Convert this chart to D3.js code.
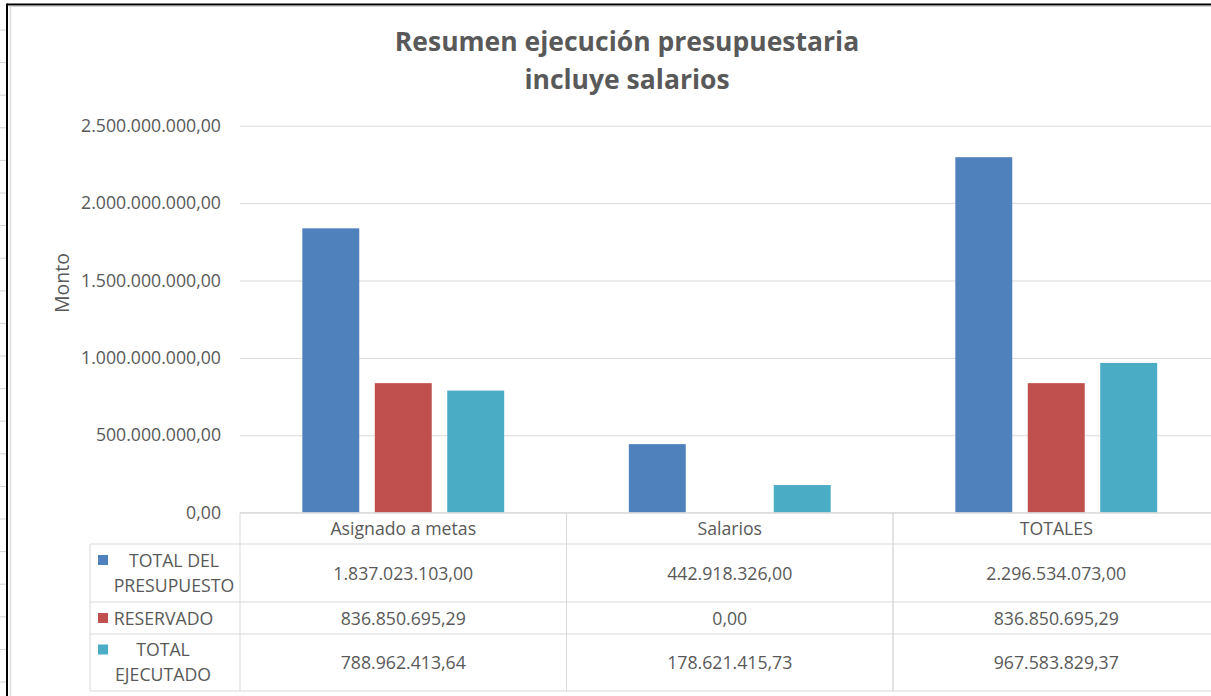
<!DOCTYPE html>
<html>
<head>
<meta charset="utf-8">
<script src="https://cdn.jsdelivr.net/npm/d3@7"></script>
<style>
  html, body { margin: 0; padding: 0; background: #fff; overflow: hidden; }
  svg { display: block; }
  text { font-family: "Open Sans", "Noto Sans", sans-serif; fill: #595959; }
</style>
</head>
<body>
<svg id="chart" width="1211" height="696"></svg>
<script>
// ---- data ----
const categories = ["Asignado a metas", "Salarios", "TOTALES"];
const seriesNames = ["TOTAL DEL PRESUPUESTO", "RESERVADO", "TOTAL EJECUTADO"];
const seriesLabelLines = [["TOTAL DEL", "PRESUPUESTO"], ["RESERVADO"], ["TOTAL", "EJECUTADO"]];
const totalPresupuesto = [1837023103.00, 442918326.00, 2296534073.00];
const reservado = [836850695.29, 0.00, 836850695.29];
const totalEjecutado = [788962413.64, 178621415.73, 967583829.37];
const yTicks = [0, 500000000, 1000000000, 1500000000, 2000000000, 2500000000];
const seriesColors = ["#4F81BD", "#C0504D", "#4BACC6"];
const titleLines = ["Resumen ejecución presupuestaria", "incluye salarios"];
const yAxisTitle = "Monto";

const seriesValues = [totalPresupuesto, reservado, totalEjecutado];

// ---- layout ----
const svg = d3.select("#chart");
const W = 1211, H = 696;
const plotLeft = 240, plotRight = 1219.5, plotTop = 125.7, plotBottom = 512.7;
const rowBounds = [512.7, 544, 602, 634, 691]; // header, row1, row2, row3
const tableLeft = 90;
const fs = 17.7;

const es = d3.formatLocale({ decimal: ",", thousands: ".", grouping: [3], currency: ["", ""] });
const fmt = es.format(",.2f");

// frame decorations
const deco = svg.append("g");
for (let y = 30; y < H; y += 32.6) {
  deco.append("line").attr("x1", 0).attr("x2", 6).attr("y1", y).attr("y2", y)
    .attr("stroke", "#d4d4d4").attr("stroke-width", 1);
}
deco.append("line").attr("x1", 7).attr("x2", W).attr("y1", 4.5).attr("y2", 4.5)
  .attr("stroke", "#000").attr("stroke-width", 2);
deco.append("line").attr("x1", 9).attr("x2", W).attr("y1", 6.3).attr("y2", 6.3)
  .attr("stroke", "#c8c8c8").attr("stroke-width", 1);
deco.append("line").attr("x1", 7).attr("x2", 7).attr("y1", 3.5).attr("y2", H)
  .attr("stroke", "#000").attr("stroke-width", 2);
deco.append("line").attr("x1", 10.5).attr("x2", 10.5).attr("y1", 6).attr("y2", H)
  .attr("stroke", "#dcdcdc").attr("stroke-width", 1.5);

// title
svg.append("g").selectAll("text").data(titleLines).join("text")
  .attr("x", 627).attr("y", (d, i) => 51 + i * 38)
  .attr("text-anchor", "middle")
  .style("font-size", "26.5px").style("font-weight", 700)
  .text(d => d);

// scales
const x0 = d3.scaleBand().domain(categories).range([plotLeft, plotRight]).padding(0);
const x1 = d3.scaleBand().domain(seriesNames).range([0, x0.bandwidth()])
  .paddingInner(0.214).paddingOuter(0.86);
const y = d3.scaleLinear().domain([0, 2500000000]).range([plotBottom, plotTop]);

// y axis with gridlines
const yAxis = svg.append("g").attr("transform", `translate(${plotLeft},0)`)
  .call(d3.axisLeft(y).tickValues(yTicks).tickFormat(fmt)
    .tickSize(-(plotRight - plotLeft)).tickPadding(19));
yAxis.select(".domain").remove();
yAxis.selectAll(".tick line").attr("stroke", "#d9d9d9").attr("stroke-width", 1);
yAxis.selectAll(".tick text").style("font-size", fs + "px").style("font-family", '"Open Sans", sans-serif')
  .attr("fill", "#595959");

// y axis title
svg.append("text")
  .attr("transform", "translate(69,283) rotate(-90)")
  .attr("text-anchor", "middle")
  .style("font-size", "19.5px")
  .text(yAxisTitle);

// bars
const barData = [];
categories.forEach((c, ci) => seriesNames.forEach((s, si) =>
  barData.push({ cat: c, series: s, value: seriesValues[si][ci], color: seriesColors[si] })));
svg.append("g").selectAll("rect").data(barData).join("rect")
  .attr("x", d => x0(d.cat) + x1(d.series))
  .attr("width", x1.bandwidth())
  .attr("y", d => y(d.value))
  .attr("height", d => y(0) - y(d.value))
  .attr("fill", d => d.color);

// x axis (category labels in header row)
const xAxis = svg.append("g").attr("transform", `translate(0,${plotBottom})`)
  .call(d3.axisBottom(x0).tickSize(0).tickPadding(10));
xAxis.select(".domain").remove();
xAxis.selectAll(".tick text").style("font-size", fs + "px").style("font-family", '"Open Sans", sans-serif')
  .attr("fill", "#595959");

// data table
const tbl = svg.append("g");
const lineColor = "#d9d9d9";
tbl.append("line").attr("x1", plotLeft).attr("x2", W).attr("y1", rowBounds[0]).attr("y2", rowBounds[0])
  .attr("stroke", lineColor);
rowBounds.slice(1).forEach(yy => {
  tbl.append("line").attr("x1", tableLeft).attr("x2", W).attr("y1", yy).attr("y2", yy)
    .attr("stroke", lineColor);
});
tbl.append("line").attr("x1", tableLeft).attr("x2", tableLeft).attr("y1", rowBounds[1]).attr("y2", rowBounds[4])
  .attr("stroke", lineColor);
categories.forEach(c => {
  [x0(c), x0(c) + x0.bandwidth()].forEach(xx => {
    tbl.append("line").attr("x1", xx).attr("x2", xx).attr("y1", rowBounds[0]).attr("y2", rowBounds[4])
      .attr("stroke", lineColor);
  });
});

// legend keys and row labels
const labelCenters = [174, 163.5, 163];
seriesNames.forEach((s, si) => {
  const top = rowBounds[si + 1], bot = rowBounds[si + 2];
  const mid = (top + bot) / 2;
  const lines = seriesLabelLines[si];
  const firstBase = lines.length === 1 ? mid + 6.5 : mid - 6.5;
  tbl.append("rect")
    .attr("x", 98).attr("y", firstBase - 11.5).attr("width", 10).attr("height", 10)
    .attr("fill", seriesColors[si]);
  lines.forEach((ln, li) => {
    tbl.append("text")
      .attr("x", labelCenters[si]).attr("y", firstBase + li * 25)
      .attr("text-anchor", "middle")
      .style("font-size", fs + "px")
      .text(ln);
  });
  categories.forEach((c, ci) => {
    tbl.append("text")
      .attr("x", x0(c) + x0.bandwidth() / 2).attr("y", mid + 6.5)
      .attr("text-anchor", "middle")
      .style("font-size", fs + "px")
      .text(fmt(seriesValues[si][ci]));
  });
});
</script>
</body>
</html>
